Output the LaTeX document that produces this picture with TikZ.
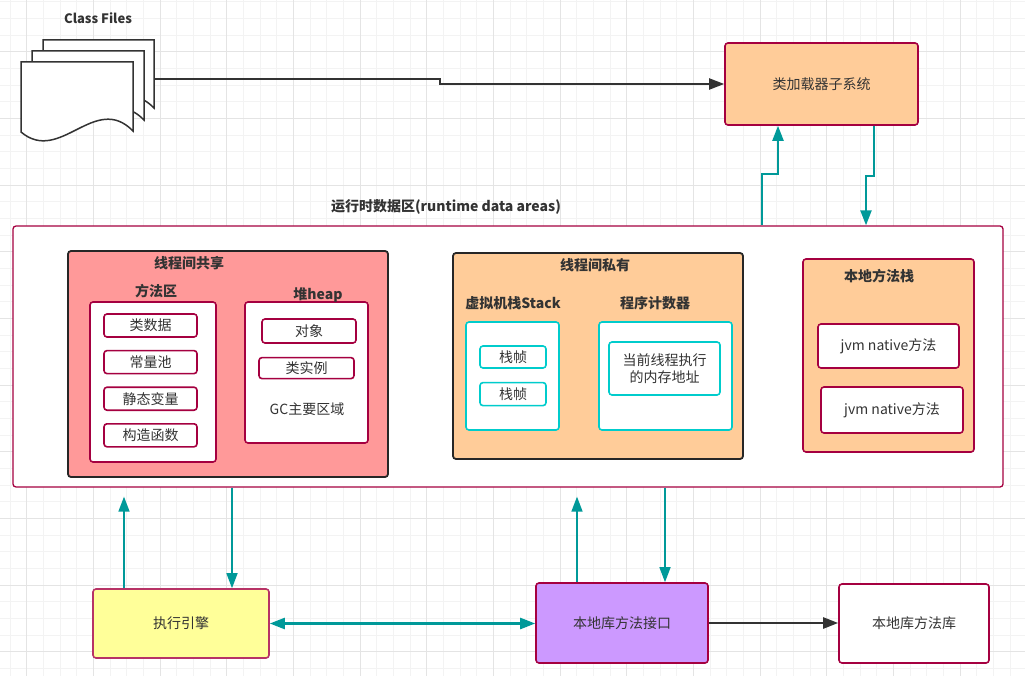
\documentclass[tikz,border=0pt]{standalone}
\usepackage{fontspec}
\setmainfont{Noto Sans CJK SC}
\usetikzlibrary{arrows.meta,positioning}
\definecolor{crim}{HTML}{A50040}
\definecolor{tealline}{HTML}{009999}
\definecolor{cyanline}{HTML}{00CCCC}
\definecolor{peach}{HTML}{FFCC99}
\definecolor{salmon}{HTML}{FF9999}
\definecolor{lemon}{HTML}{FFFF99}
\definecolor{lilac}{HTML}{CC99FF}
\definecolor{txt}{HTML}{333333}
\definecolor{gridminor}{HTML}{F3F3F3}
\definecolor{gridmajor}{HTML}{E4E4E4}

\begin{document}
\begin{tikzpicture}[x=1pt,y=-1pt,
  font=\fontsize{14}{17}\selectfont,
  every node/.style={text=txt, inner sep=0pt},
  head/.style={font=\fontsize{14}{17}\selectfont\bfseries},
  box/.style={draw=crim, line width=1.6pt, rounded corners=3pt, fill=white},
  item/.style={box, minimum width=93pt, minimum height=23pt},
  cbox/.style={draw=cyanline, line width=1.6pt, rounded corners=3pt, fill=white},
  group/.style={draw=black!85, line width=1.8pt, rounded corners=3pt},
  page/.style={draw=txt, line width=1.5pt, fill=white},
  flow/.style={draw=tealline, line width=1.5pt, -{Triangle[length=15pt,width=11pt]}},
  link/.style={draw=txt, line width=2pt, -{Triangle[length=15pt,width=11pt]}}]
\useasboundingbox (0,0) rectangle (1025,676);
\fill[white] (0,0) rectangle (1025,676);
% grid
\foreach \k in {0,...,61} \draw[gridminor, line width=0.8pt] ({10+16.667*\k},0) -- ++(0,676);
\foreach \k in {0,...,40} \draw[gridminor, line width=0.8pt] (0,{1.667+16.667*\k}) -- ++(1025,0);
\foreach \k in {0,...,15} \draw[gridmajor, line width=0.8pt] ({26.667+66.667*\k},0) -- ++(0,676);
\foreach \k in {0,...,9} \draw[gridmajor, line width=0.8pt] (0,{51.667+66.667*\k}) -- ++(1025,0);

% class files
\node[head, font=\fontsize{13}{15}\selectfont\bfseries] (cftitle) at (98,18) {Class Files};
\draw[page] (43,40) -- (154,40) -- (154,108) .. controls (116,69) and (81,142) .. (43,109) -- cycle;
\draw[page] (32,51) -- (144,51) -- (144,120) .. controls (106,81) and (71,154) .. (32,121) -- cycle;
\draw[page] (21,62) -- (133,62) -- (133,131) .. controls (95,92) and (60,165) .. (21,132) -- cycle;
\coordinate (files) at (155,79);

\node[box, fill=peach, minimum width=193pt, minimum height=82pt] (loader) at (821.5,84) {类加载器子系统};

% runtime data areas
\node[head] (rtlabel) at (446,207) {运行时数据区(runtime data areas)};
\node[draw=crim, line width=1.3pt, rounded corners=3pt, fill=white,
  minimum width=990pt, minimum height=261pt] (runtime) at (508,356.5) {};

\node[group, fill=salmon, minimum width=320pt, minimum height=226pt] (shared) at (228,364) {};
\node[head] (sharedlabel) at (189,263) {线程间共享};
\node[box, minimum width=126pt, minimum height=160pt] (method) at (153,382) {};
\node[head] (methodlabel) at (156,291) {方法区};
\node[item] (clsdata) at (150.5,325.5) {类数据};
\node[item, below=12pt of clsdata] (constpool) {常量池};
\node[item, below=12pt of constpool] (staticvar) {静态变量};
\node[item, below=12pt of staticvar] (ctor) {构造函数};
\node[box, minimum width=123pt, minimum height=141pt] (heap) at (306.5,372.5) {};
\node[head] (heaplabel) at (318,295) {堆heap};
\node[item, minimum width=94pt, minimum height=24pt] (obj) at (309,331) {对象};
\node[item, minimum width=95pt, minimum height=21pt, below=13pt of obj, xshift=-2.5pt] (inst) {类实例};
\node (gc) at (307,409) {GC主要区域};

\node[group, fill=peach, minimum width=290pt, minimum height=206pt] (private) at (598,356) {};
\node[head] (privatelabel) at (595,265) {线程间私有};
\node[head] (stacklabel) at (513,303) {虚拟机栈Stack};
\node[head] (pclabel) at (655,303) {程序计数器};
\node[cbox, minimum width=93pt, minimum height=108pt] (vmstack) at (512.5,376) {};
\node[cbox, minimum width=66pt, minimum height=22pt] (frame1) at (513,357) {栈帧};
\node[cbox, minimum width=66pt, minimum height=23pt, below=13pt of frame1] (frame2) {栈帧};
\node[cbox, minimum width=133pt, minimum height=108pt] (pc) at (665.5,376) {};
\node[cbox, minimum width=111pt, minimum height=53pt, align=center] (addr) at (664.5,368.5) {当前线程执行\\的内存地址};

\node[box, fill=peach, minimum width=171pt, minimum height=193pt] (nstack) at (888.5,355.5) {};
\node[head] (nstacklabel) at (879,276) {本地方法栈};
\node[box, minimum width=141pt, minimum height=44pt] (jvm1) at (888.5,346) {jvm native方法};
\node[box, minimum width=142pt, minimum height=46pt] (jvm2) at (892,410) {jvm native方法};

% bottom row
\node[box, fill=lemon, draw=crim!80, minimum width=176pt, minimum height=69pt] (engine) at (181,623.5) {执行引擎};
\node[box, fill=lilac, minimum width=172pt, minimum height=80pt] (nif) at (622,623) {本地库方法接口};
\node[box, minimum width=150pt, minimum height=79pt] (nlib) at (914,623.5) {本地库方法库};

% connectors
\draw[link] (files) -- ++(285,0) |- (loader.west);
\coordinate (ldfoot) at (loader.south |- runtime.north);
\draw[flow, line width=2.2pt] ([xshift=-59.5pt]ldfoot) -- ++(0,-51) -| ([xshift=-43.5pt]loader.south);
\draw[flow, line width=2.2pt] ([xshift=52.5pt]loader.south) -- ++(0,50) -| ([xshift=44.5pt]ldfoot);
\coordinate (engfoot) at (engine.north |- runtime.south);
\draw[flow, shorten >=9pt] ([xshift=-57pt]engine.north) -- ([xshift=-57pt]engfoot);
\draw[flow] ([xshift=51pt]engfoot) -- ([xshift=51pt]engine.north);
\coordinate (niffoot) at (nif.north |- runtime.south);
\draw[flow, shorten >=9pt] ([xshift=-45pt]nif.north) -- ([xshift=-45pt]niffoot);
\draw[flow] ([xshift=43pt]niffoot) -- ([xshift=43pt]nif.north);
\draw[flow, line width=2.4pt, {Triangle[length=15pt,width=11pt]}-{Triangle[length=15pt,width=11pt]}] (engine.east) -- (engine.east -| nif.west);
\draw[link, line width=2.4pt] (nif.east) -- (nif.east -| nlib.west);
\end{tikzpicture}
\end{document}
